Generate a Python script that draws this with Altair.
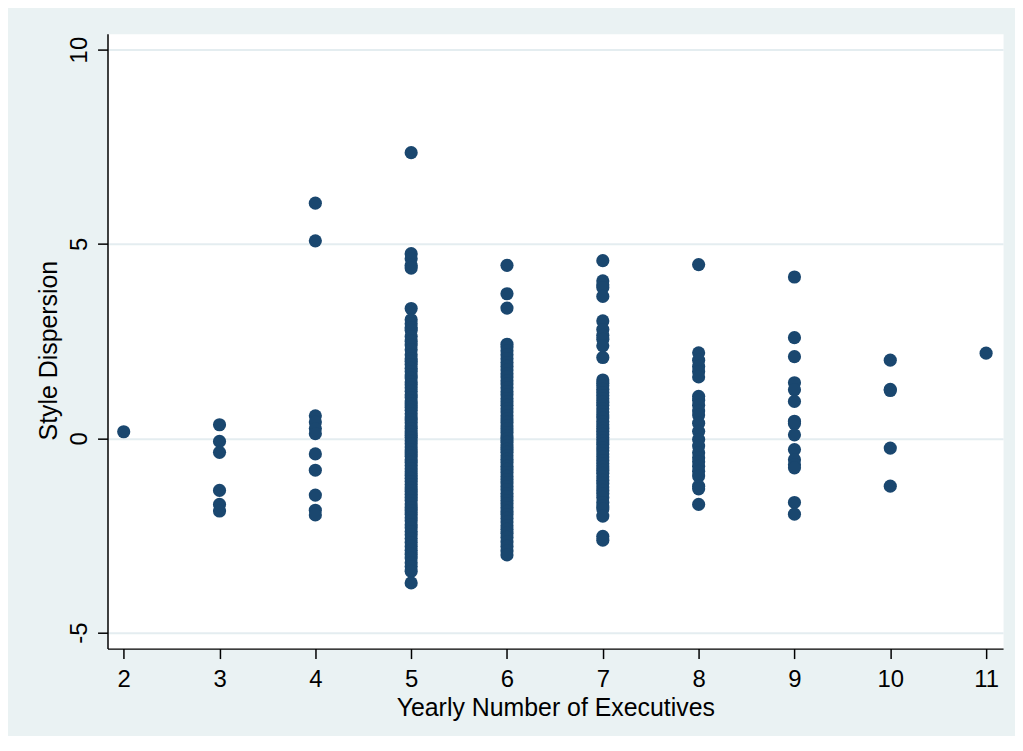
import altair as alt
import pandas as pd

# Style dispersion values, grouped by yearly number of executives
disp_2 = [0.17]
disp_3 = [0.35, -0.08, -0.36, -1.34, -1.70, -1.87]
disp_4 = [6.05, 5.08, 0.58, 0.42, 0.25, 0.12, -0.40, -0.82, -1.46, -1.85, -1.97]
disp_5 = [7.35, 4.75, 4.62, 4.45, 4.38, 3.34, 3.05, 2.95, 2.85, 2.78, 2.62, 2.50,
          2.40, 2.28, 2.15, 2.05, 1.98, 1.90, 1.80, 1.72, 1.63, 1.55, 1.45, 1.38,
          1.30, 1.21, 1.12, 1.05, 0.96, 0.88, 0.80, 0.72, 0.63, 0.55, 0.47, 0.40,
          0.32, 0.25, 0.16, 0.08, 0.02, -0.06, -0.14, -0.22, -0.30, -0.38, -0.46,
          -0.55, -0.62, -0.70, -0.78, -0.86, -0.95, -1.03, -1.11, -1.19, -1.28,
          -1.36, -1.44, -1.52, -1.60, -1.69, -1.78, -1.86, -1.95, -2.04, -2.12,
          -2.22, -2.30, -2.40, -2.48, -2.58, -2.68, -2.78, -2.88, -2.98, -3.08,
          -3.20, -3.30, -3.42, -3.72]
disp_6 = [4.45, 3.72, 3.35, 2.42, 2.35, 2.25, 2.15, 2.05, 1.95, 1.85, 1.76, 1.66,
          1.58, 1.48, 1.40, 1.30, 1.20, 1.12, 1.02, 0.94, 0.85, 0.76, 0.68, 0.58,
          0.50, 0.41, 0.32, 0.24, 0.15, 0.06, -0.02, -0.10, -0.20, -0.28, -0.36,
          -0.45, -0.54, -0.62, -0.72, -0.80, -0.88, -0.98, -1.06, -1.15, -1.24,
          -1.32, -1.42, -1.50, -1.60, -1.68, -1.78, -1.88, -1.96, -2.06, -2.15,
          -2.25, -2.34, -2.44, -2.55, -2.67, -2.78, -2.90, -3.00]
disp_7 = [4.57, 4.05, 3.95, 3.88, 3.65, 3.02, 2.80, 2.65, 2.55, 2.38, 2.08, 1.50,
          1.42, 1.35, 1.26, 1.18, 1.10, 1.02, 0.93, 0.85, 0.76, 0.68, 0.60, 0.52,
          0.43, 0.35, 0.26, 0.18, 0.10, 0.02, -0.07, -0.15, -0.24, -0.32, -0.40,
          -0.48, -0.57, -0.65, -0.74, -0.82, -0.90, -0.99, -1.08, -1.16, -1.25,
          -1.34, -1.42, -1.52, -1.65, -1.74, -1.82, -2.00, -2.52, -2.62]
disp_8 = [4.47, 2.20, 2.01, 1.85, 1.72, 1.58, 1.08, 0.98, 0.85, 0.70, 0.60, 0.39,
          0.18, -0.03, -0.20, -0.37, -0.50, -0.60, -0.72, -0.85, -0.97, -1.23,
          -1.30, -1.70]
disp_9 = [4.15, 2.59, 2.10, 1.43, 1.25, 0.95, 0.44, 0.38, 0.09, -0.29, -0.55,
          -0.68, -0.76, -1.65, -1.95]
disp_10 = [2.01, 1.26, 1.23, -0.25, -1.23]
disp_11 = [2.19]

groups = {2: disp_2, 3: disp_3, 4: disp_4, 5: disp_5, 6: disp_6, 7: disp_7,
          8: disp_8, 9: disp_9, 10: disp_10, 11: disp_11}

x_ticks = [2, 3, 4, 5, 6, 7, 8, 9, 10, 11]
y_ticks = [-5, 0, 5, 10]

rows = [{"execs": k, "disp": v} for k, vals in groups.items() for v in vals]
df = pd.DataFrame(rows)

font = "Liberation Sans"

chart = alt.Chart(df).mark_circle(
    color="#1A476F", opacity=1, size=175
).encode(
    x=alt.X("execs:Q",
            scale=alt.Scale(domain=[1.831, 11.177], nice=False, zero=False),
            axis=alt.Axis(values=x_ticks, title="Yearly Number of Executives",
                          grid=False, tickSize=10, labelPadding=9,
                          titleY=67, titleBaseline="alphabetic")),
    y=alt.Y("disp:Q",
            scale=alt.Scale(domain=[-5.41, 10.41], nice=False, zero=False),
            axis=alt.Axis(values=y_ticks, title="Style Dispersion",
                          labelExpr="toString(datum.value)",
                          grid=True, gridColor="#E4EDF0", gridWidth=2,
                          tickSize=10, labelAngle=270, labelAlign="center",
                          labelBaseline="alphabetic", labelPadding=11,
                          titleX=-46, titleY=318, titleBaseline="bottom")),
).properties(
    width=900, height=618,
    background="#EAF2F3",
    padding={"left": 100, "top": 24, "right": 12, "bottom": 86},
    autosize=alt.AutoSizeParams(type="none"),
).configure_view(
    fill="white", stroke="transparent"
).configure_axis(
    domainColor="black", domainWidth=1.5, tickColor="black", tickWidth=1.5,
    labelFont=font, labelFontSize=24, labelColor="black",
    titleFont=font, titleFontSize=25, titleColor="black", titleFontWeight="normal",
)

chart.save("out.html", embed_options={"renderer": "svg", "actions": False})
